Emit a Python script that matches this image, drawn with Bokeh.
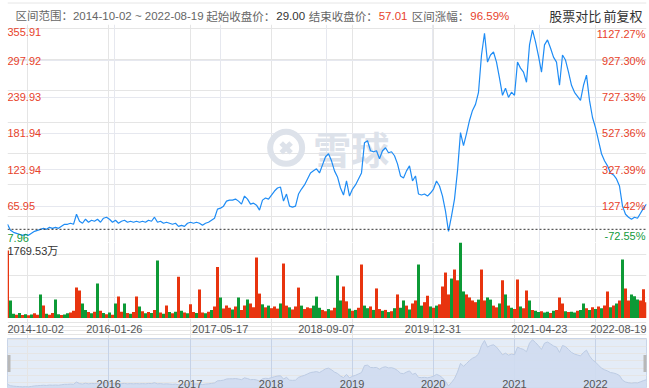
import pandas as pd
from bokeh.plotting import figure
from bokeh.layouts import column
from bokeh.models import Range1d, FixedTicker, Grid, Span, ColumnDataSource
from bokeh.core.properties import value
from bokeh.embed import file_html
from bokeh.resources import INLINE

# ---------------- data ----------------
start_date = "2014-10-02"
end_date = "2022-08-19"
start_close = "29.00"
end_close = "57.01"
range_change = "96.59%"
base_price = 29.00

prices = [
    37.0, 27.4, 24.2, 22.6, 21.0, 19.4, 21.0, 19.4, 22.6, 25.8,
    27.4, 29.0, 30.6, 29.0, 32.2, 30.6, 32.2, 30.6, 33.8, 37.0,
    37.0, 38.7, 37.0, 53.1, 41.9, 38.7, 45.1, 40.3, 43.5, 41.9,
    45.1, 40.3, 46.7, 48.3, 45.1, 40.3, 43.5, 38.7, 41.9, 43.5,
    40.3, 41.9, 40.3, 41.9, 40.3, 41.9, 40.3, 43.5, 41.9, 48.3,
    40.3, 41.9, 38.7, 40.3, 38.7, 37.0, 38.7, 33.8, 35.4, 33.8,
    38.7, 40.3, 38.7, 40.3, 38.7, 35.4, 38.7, 40.3, 43.5, 46.7,
    61.2, 62.8, 66.0, 74.0, 75.6, 75.6, 77.2, 74.0, 69.2, 82.1,
    77.2, 69.2, 70.8, 67.6, 59.6, 75.6, 78.9, 77.2, 83.7, 90.1,
    94.9, 96.5, 74.0, 85.3, 66.0, 64.4, 66.0, 85.3, 93.3, 99.8,
    109.4, 119.0, 122.3, 125.5, 119.0, 131.9, 144.8, 149.6, 138.3, 122.3,
    112.6, 94.9, 83.7, 106.2, 82.1, 93.3, 99.8, 109.4, 119.0, 167.3,
    170.5, 154.4, 152.8, 154.4, 141.6, 154.4, 159.2, 151.2, 152.8, 146.4,
    133.5, 114.2, 111.0, 122.3, 130.3, 106.2, 114.2, 85.3, 83.7, 85.3,
    82.1, 86.9, 93.3, 106.2, 98.1, 82.1, 57.9, 25.8, 49.9, 77.2,
    122.3, 183.4, 162.5, 181.8, 202.7, 218.8, 228.4, 247.7, 307.2, 342.0,
    295.9, 307.2, 312.0, 295.9, 270.2, 242.9, 254.1, 239.6, 247.7, 242.9,
    295.9, 286.3, 279.9, 263.8, 323.3, 347.0, 328.1, 305.6, 279.9, 323.3,
    331.3, 318.4, 303.9, 295.9, 258.9, 307.2, 299.2, 279.9, 258.9, 247.7,
    241.3, 234.8, 258.9, 275.0, 234.8, 207.5, 191.4, 170.5, 149.6, 138.4,
    130.3, 119.0, 115.8, 109.4, 98.1, 66.0, 53.1, 48.3, 45.1, 48.3,
    46.7, 54.7, 62.8, 69.2,
]

# volume in 万 shares
volumes = [
    1583, 420, 110, 90, 130, 80, 100, 75, 95, 120,
    85, 560, 300, 110, 90, 130, 440, 100, 80, 95,
    120, 140, 180, 720, 650, 350, 200, 150, 120, 160,
    815, 180, 130, 100, 140, 90, 350, 510, 160, 350,
    130, 110, 150, 510, 280, 170, 120, 150, 130, 200,
    1350, 140, 110, 300, 150, 120, 160, 970, 180, 140,
    120, 330, 150, 130, 675, 140, 120, 160, 200, 280,
    1200, 490, 230, 300, 250, 210, 280, 490, 200, 300,
    440, 350, 260, 1420, 580, 330, 260, 300, 240, 280,
    230, 350, 1280, 300, 260, 210, 280, 720, 300, 220,
    260, 240, 300, 510, 250, 200, 170, 220, 190, 250,
    1000, 420, 745, 400, 230, 180, 200, 250, 1257, 300,
    240, 280, 200, 700, 220, 180, 200, 150, 170, 240,
    560, 250, 420, 300, 210, 350, 420, 1257, 300, 380,
    530, 280, 250, 300, 330, 745, 1070, 560, 930, 1140,
    890, 1769.53, 630, 560, 490, 420, 380, 440, 1140, 420,
    490, 440, 300, 260, 350, 890, 560, 300, 250, 220,
    910, 280, 240, 650, 420, 200, 180, 150, 170, 140,
    160, 130, 180, 200, 490, 350, 170, 150, 160, 140,
    180, 200, 350, 240, 200, 260, 220, 280, 240, 300,
    630, 260, 300, 350, 420, 1375, 700, 420, 560, 520,
    440, 420, 680, 380,
]

# r = up day (red), g = down day (green)
bar_sides = (
    "rggrgrgrgr" "rgrgrrggrg" "grrrrggrgr" "grgrgrgrrg" "rgrrgrgrgr"
    "grgrgrgrgr" "grrgrrgrgr" "rgrrrgrgrr" "grrrrgrgrr" "rgrrgrrrgr"
    "rrgggrrgrr" "ggrrgrgrrg" "grgrrgrgrg" "rggrgrrggr" "rgrgrrrrgr"
    "rggrrrrgrr" "ggrrgrgrgr" "rgrrgrggrg" "grgrrrgrgg" "rggrgrgrgr"
    "rgrgrgrrgg" "grrr"
)

price_ticks = [7.96, 65.95, 123.94, 181.94, 239.93, 297.92, 355.91]
pct_labels = ["-72.55%", "127.42%", "327.39%", "527.36%", "727.33%", "927.30%", "1127.27%"]
date_labels = ["2014-10-02", "2016-01-26", "2017-05-17", "2018-09-07",
               "2019-12-31", "2021-04-23", "2022-08-19"]
year_labels = ["2016", "2017", "2018", "2019", "2020", "2021", "2022"]
vol_max = 1769.53
vol_max_label = "1769.53万"

# ---------------- styling ----------------
RED = "#e8432b"
GREEN = "#119a3b"
BAR_RED = "#e8340f"
BAR_GREEN = "#0d9a36"
LINE = "#1e8cf5"
GRID = "#e6e8ef"
NUM_FONT = value("Liberation Sans")
MIX_FONT = value("Liberation Sans, Noto Sans CJK SC")
CJK_FONT = value("Noto Sans CJK SC")

W = 649
x0 = pd.Timestamp(start_date)
x1 = pd.Timestamp(end_date)
xr = Range1d(x0, x1)


def ms(s):
    return pd.Timestamp(s).value / 1e6


dates = pd.date_range(x0, x1, periods=len(prices))
step_ms = (dates[1] - dates[0]).total_seconds() * 1000.0
colors = [BAR_RED if c == "r" else BAR_GREEN for c in bar_sides[:len(volumes)]]
interior_ms = [ms(d) for d in date_labels[1:-1]]


def panel(h, yr):
    return figure(width=W, height=h, x_range=xr, y_range=yr, x_axis_type="datetime",
                  x_axis_location=None, y_axis_location=None, toolbar_location=None,
                  output_backend="svg", min_border=0, min_border_left=7,
                  min_border_right=3, outline_line_color=None)


# ---------------- header ----------------
hdr = figure(width=W, height=24, x_range=Range1d(0, W), y_range=Range1d(0, 24),
             x_axis_location=None, y_axis_location=None, toolbar_location=None,
             output_backend="svg", min_border=0, outline_line_color=None)
hdr.xgrid.visible = False
hdr.ygrid.visible = False
hdr.add_layout(Span(location=21.5, dimension="width", line_color="#e6e6e6", line_width=1))
hy = 9
hfs = "11.5px"
hdr.text(x=[8], y=[hy], text=["区间范围：" + start_date + " ~ " + end_date],
         text_font=MIX_FONT, text_font_size=hfs, text_color="#666666",
         text_baseline="middle", text_align="left")
hdr.text(x=[272, 376, 469], y=[hy] * 3, text=["起始收盘价：", "结束收盘价：", "区间涨幅："],
         text_font=CJK_FONT, text_font_size=hfs, text_color="#666666",
         text_baseline="middle", text_align="right")
hdr.text(x=[273], y=[hy], text=[start_close], text_font=MIX_FONT, text_font_size=hfs,
         text_color="#333333", text_baseline="middle", text_align="left")
hdr.text(x=[377, 470], y=[hy] * 2, text=[end_close, range_change], text_font=MIX_FONT,
         text_font_size=hfs, text_color=RED, text_baseline="middle", text_align="left")
hdr.text(x=[603, 645], y=[hy] * 2, text=["股票对比", "前复权"], text_font=CJK_FONT,
         text_font_size="13px", text_color="#333333", text_baseline="middle", text_align="right")

# ---------------- price panel ----------------
pp = panel(218, Range1d(price_ticks[0], price_ticks[-1]))
pp.add_layout(Grid(dimension=1, ticker=FixedTicker(ticks=price_ticks), grid_line_color=GRID))
pp.add_layout(Grid(dimension=0, ticker=FixedTicker(ticks=interior_ms), grid_line_color=GRID))

# watermark
wm_c = "#dde2ea"
pp.scatter(x=[pd.Timestamp("2018-03-10")], y=[159.0], marker="circle", size=32,
           fill_color=None, line_color=wm_c, line_width=6)
pp.scatter(x=[pd.Timestamp("2018-03-10")], y=[159.0], marker="x", size=14,
           line_color=wm_c, line_width=5)
pp.text(x=[pd.Timestamp("2018-12-28")], y=[159.0], text=["雪球"], text_font=CJK_FONT,
        text_font_size="38px", text_font_style="bold", text_color=wm_c,
        text_align="center", text_baseline="middle")

pp.line(dates, prices, line_color=LINE, line_width=1.2)
pp.add_layout(Span(location=base_price, dimension="width", line_color="#333333",
                   line_dash="2 2", line_width=1))

tick_colors = [RED if t >= base_price else GREEN for t in price_ticks]
tick_txt = ["%.2f" % t for t in price_ticks]
mid = slice(1, len(price_ticks) - 1)
for sl, base, off in [(slice(0, 1), "bottom", -1), (mid, "middle", 0),
                      (slice(len(price_ticks) - 1, None), "top", 3)]:
    ys = price_ticks[sl]
    pp.text(x=[x0] * len(ys), y=ys, text=tick_txt[sl], text_color=tick_colors[sl],
            text_font=NUM_FONT, text_font_size="11px", text_align="left",
            text_baseline=base, y_offset=off, x_offset=0)
    pp.text(x=[x1] * len(ys), y=ys, text=pct_labels[sl], text_color=tick_colors[sl],
            text_font=NUM_FONT, text_font_size="11px", text_align="right",
            text_baseline=base, y_offset=off, x_offset=-1)

# ---------------- volume panel ----------------
vp = panel(76, Range1d(0, vol_max))
vp.add_layout(Grid(dimension=0, ticker=FixedTicker(ticks=interior_ms), grid_line_color=GRID))
vsrc = ColumnDataSource(dict(x=dates[:len(volumes)], top=volumes, color=colors))
vp.vbar(x="x", top="top", bottom=0, width=step_ms, fill_color="color", line_color=None,
        source=vsrc)
vp.text(x=[x0], y=[vol_max], text=[vol_max_label], text_font=MIX_FONT, text_font_size="11px",
        text_color="#333333", text_align="left", text_baseline="top", y_offset=2)

# ---------------- date labels ----------------
dp = panel(20, Range1d(0, 1))
dts = [pd.Timestamp(d) for d in date_labels]
for xs, tx, al in [(dts[:1], date_labels[:1], "left"), (dts[1:-1], date_labels[1:-1], "center"),
                   (dts[-1:], date_labels[-1:], "right")]:
    dp.text(x=xs, y=[0.5] * len(xs), text=tx, text_font=NUM_FONT, text_font_size="11px",
            text_color="#555555", text_align=al, text_baseline="middle")

# ---------------- navigator ----------------
npnl = panel(50, Range1d(price_ticks[0], price_ticks[-1]))
npnl.background_fill_color = "#e4ecf7"
npnl.outline_line_color = "#c9d5e8"
year_ms = [ms(y + "-01-01") for y in year_labels]
npnl.add_layout(Grid(dimension=0, ticker=FixedTicker(ticks=year_ms), grid_line_color="#c6d2e6"))
npnl.varea(x=dates, y1=[price_ticks[0]] * len(prices), y2=prices, fill_color="#cfdcf0",
           fill_alpha=0.9)
npnl.line(dates, prices, line_color="#bccbe3", line_width=1)
npnl.text(x=[pd.Timestamp(y + "-01-01") for y in year_labels], y=[price_ticks[0]] * len(year_labels),
          text=year_labels, text_font=NUM_FONT, text_font_size="11px", text_color="#555555",
          text_align="center", text_baseline="bottom", y_offset=-1)
nav_mid = (price_ticks[0] + price_ticks[-1]) / 2
npnl.rect(x=[x0, x1], y=[nav_mid, nav_mid], width=6, height=17, width_units="screen",
          height_units="screen", fill_color="#b8b8b8", line_color=None)

layout = column(hdr, pp, vp, dp, npnl, spacing=0)
open("out.html", "w").write(file_html(layout, INLINE))
